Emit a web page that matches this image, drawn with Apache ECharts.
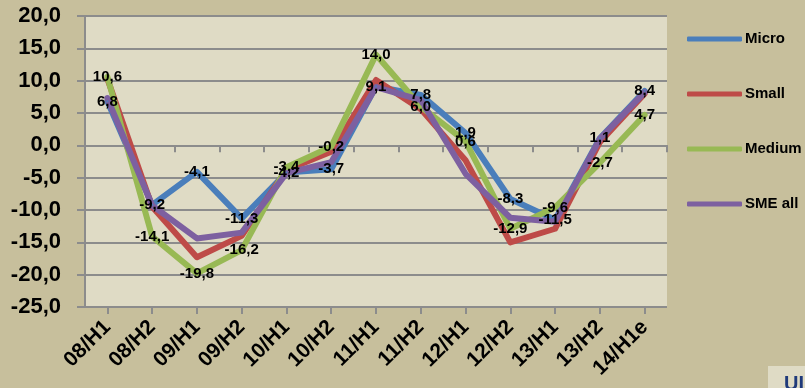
<!DOCTYPE html>
<html>
<head>
<meta charset="utf-8">
<script src="https://cdn.jsdelivr.net/npm/echarts@6/dist/echarts.min.js"></script>
<style>
  html, body { margin: 0; padding: 0; background: #c7bf9c; }
  #chart { width: 805px; height: 388px; }
</style>
</head>
<body>
<div id="chart"></div>
<script>
// half-year periods
const periods = ['08/H1', '08/H2', '09/H1', '09/H2', '10/H1', '10/H2', '11/H1', '11/H2', '12/H1', '12/H2', '13/H1', '13/H2', '14/H1e'];

const micro  = [6.8, -9.2, -4.1, -11.3, -4.2, -3.7, 9.1, 7.8, 1.9, -8.3, -11.5, 1.1, 8.4];
const small  = [10.3, -9.5, -17.3, -14.0, -3.8, -1.0, 10.1, 5.6, -2.3, -15.0, -12.9, 0.5, 8.0];
const medium = [10.6, -14.1, -19.8, -16.2, -3.4, -0.2, 14.0, 6.0, 0.6, -12.9, -9.6, -2.7, 4.7];
const smeAll = [7.3, -9.3, -14.4, -13.5, -4.3, -2.6, 9.0, 7.0, -4.4, -11.2, -11.8, 1.0, 8.2];

const yTicks = { min: -25, max: 20, step: 5 };

const comma = v => Number(v).toFixed(1).replace('.', ',');
const FONT = '"Liberation Sans Narrow", "Liberation Sans", Arial, sans-serif';
const gridGrey = '#8c8c8c';

let chart = echarts.init(document.getElementById('chart'), null, { renderer: 'canvas' });

let mkLine = (name, data, color, withLabels) => ({
  name: name,
  type: 'line',
  xAxisIndex: 0,
  data: data,
  symbol: 'circle',
  symbolSize: 2,
  showSymbol: withLabels,
  itemStyle: { color: color, borderWidth: 0 },
  color: color,
  lineStyle: { width: 6, color: color, cap: 'round', join: 'round' },
  label: {
    show: withLabels,
    position: 'inside',
    color: '#000',
    fontFamily: FONT,
    fontWeight: 'bold',
    fontSize: 15,
    formatter: p => comma(p.value)
  },
  labelLayout: { hideOverlap: false },
  emphasis: { disabled: true },
  animation: false
});

const option = {
  backgroundColor: '#c7bf9c',
  grid: {
    left: 85, top: 16, width: 582, height: 291,
    show: true, backgroundColor: '#dfdbc5', borderWidth: 0
  },
  legend: {
    orient: 'vertical',
    left: 687,
    top: 31,
    padding: 0,
    icon: 'roundRect',
    itemWidth: 55,
    itemHeight: 5,
    itemGap: 39,
    textStyle: { fontFamily: FONT, fontWeight: 'bold', fontSize: 15, color: '#000', lineHeight: 16, padding: [0, 0, 0, -2] },
    data: ['Micro', 'Small', 'Medium', 'SME all']
  },
  xAxis: [
    {
      // labels at the bottom
      type: 'category',
      data: periods,
      position: 'bottom',
      axisLine: { show: false, onZero: false },
      axisTick: { show: false },
      axisLabel: {
        rotate: 45,
        margin: 17,
        interval: 0,
        color: '#000',
        fontFamily: FONT,
        fontWeight: 'bold',
        fontSize: 21
      }
    },
    {
      // zero line with boundary ticks
      type: 'category',
      data: periods,
      position: 'bottom',
      axisLine: { show: true, onZero: true, lineStyle: { color: gridGrey, width: 2 } },
      axisTick: { show: true, interval: 0, length: 7, lineStyle: { color: gridGrey, width: 2 } },
      axisLabel: { show: false }
    },
    {
      // centre ticks
      type: 'category',
      data: periods,
      position: 'bottom',
      axisLine: { show: false, onZero: true },
      axisTick: { show: true, interval: 0, alignWithLabel: true, length: 7, lineStyle: { color: gridGrey, width: 2 } },
      axisLabel: { show: false }
    }
  ],
  yAxis: {
    type: 'value',
    min: yTicks.min,
    max: yTicks.max,
    interval: yTicks.step,
    axisLine: { show: true, lineStyle: { color: gridGrey, width: 2 } },
    axisTick: { show: true, length: 8, lineStyle: { color: gridGrey, width: 2 } },
    splitLine: { show: true, lineStyle: { color: gridGrey, width: 2 } },
    axisLabel: {
      margin: 24,
      color: '#000',
      fontFamily: FONT,
      fontWeight: 'bold',
      fontSize: 22,
      formatter: v => comma(v)
    }
  },
  series: [
    mkLine('Micro', micro, '#4a7ebb', true),
    mkLine('Small', small, '#be4b48', false),
    mkLine('Medium', medium, '#98b954', true),
    mkLine('SME all', smeAll, '#7d60a0', false)
  ],
  graphic: [
    { type: 'rect', left: 768, top: 366, shape: { width: 40, height: 24 }, style: { fill: '#dfdbc5' } },
    { type: 'text', left: 784, top: 374, style: { text: 'UI', fill: '#1f3a7a', font: 'bold 20px ' + FONT } }
  ],
  animation: false
};

chart.setOption(option);
</script>
</body>
</html>
